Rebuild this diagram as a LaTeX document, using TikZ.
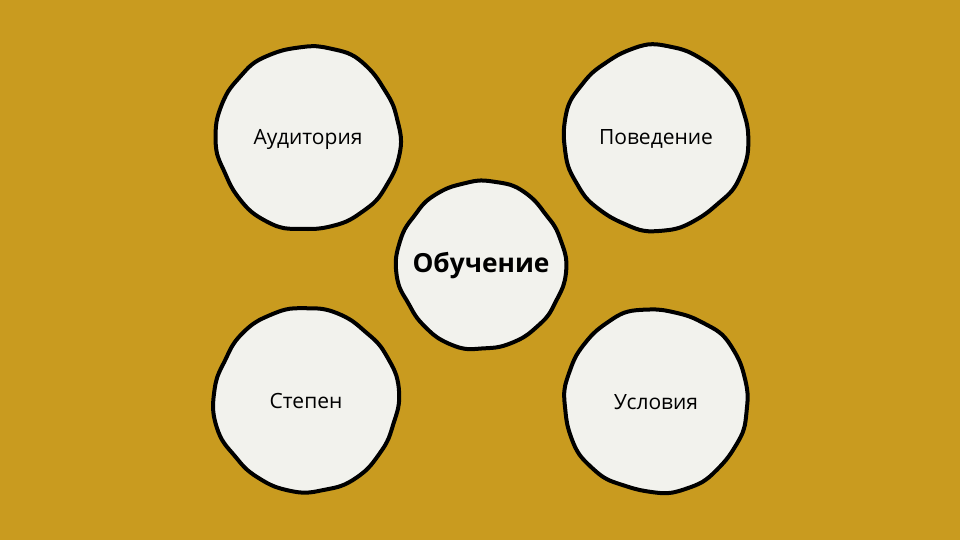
\documentclass[tikz,border=0pt]{standalone}
\usepackage{fontspec}
\setmainfont{Open Sans}
\usetikzlibrary{positioning}
\definecolor{gold}{RGB}{201,155,31}
\definecolor{paper}{RGB}{242,242,237}
\tikzset{
  blob/.style={draw=black, line width=4pt, fill=paper, line join=round},
  circtext/.style={font=\fontsize{21}{25}\selectfont},
  maintext/.style={font=\fontsize{26.3}{30}\selectfont\bfseries}
}

\begin{document}
\begin{tikzpicture}[x=1pt,y=-1pt]
    \fill[gold] (0,0) rectangle (960,540);
    \useasboundingbox (0,0) rectangle (960,540);

    % Outer circles
    \foreach \name/\cx/\cy/\rr/\ph/\txt in {aud/308/138/92/0/Аудитория, pov/656/138/92/70/Поведение,
                                             ste/306/400/92/140/Степен, usl/656/401/92/210/Условия}{
        \draw[blob] plot[smooth cycle, domain=0:355, samples=72]
            ({\cx+(\rr+0.3*sin(11*\x+\ph)+0.25*cos(17*\x+2*\ph)+0.9*sin(4*\x+\ph)+0.7*cos(6*\x+3*\ph))*cos(\x)},
             {\cy+(\rr+0.3*sin(11*\x+\ph)+0.25*cos(17*\x+2*\ph)+0.9*sin(4*\x+\ph)+0.7*cos(6*\x+3*\ph))*sin(\x)});
        \node[circtext] (\name) at (\cx,\cy+1) {\txt};
    }

    % Centre circle
    \draw[blob] plot[smooth cycle, domain=0:355, samples=72]
        ({481+(84+0.3*sin(11*\x+30)+0.25*cos(17*\x+100)+0.9*sin(4*\x+50)+0.7*cos(6*\x+20))*cos(\x)},
         {265+(84+0.3*sin(11*\x+30)+0.25*cos(17*\x+100)+0.9*sin(4*\x+50)+0.7*cos(6*\x+20))*sin(\x)});
    \node[maintext] (obu) at (481,266) {Обучение};
\end{tikzpicture}
\end{document}
